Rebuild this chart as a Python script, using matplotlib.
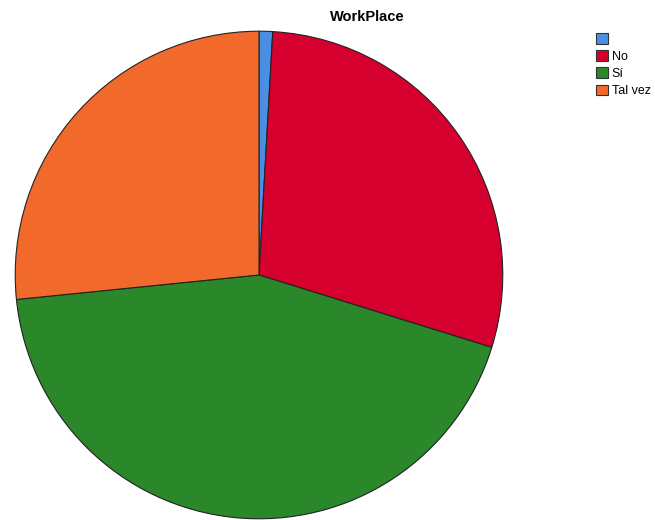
import matplotlib
matplotlib.use('Agg')
import matplotlib.pyplot as plt
from matplotlib.patches import Patch

# ── Data (percent of responses) ───────────────────────────────────────────
labels = ['', 'No', 'Sí', 'Tal vez']
shares = [0.9, 28.9, 43.6, 26.6]
colors = ['#4a8fe4', '#d6002f', '#2a872a', '#f2692c']

# ── Plot ──────────────────────────────────────────────────────────────────
fig = plt.figure(figsize=(6.55, 5.2), dpi=100)
ax = fig.add_axes([14 / 655, 0, 490 / 655, 490 / 520])
ax.pie(shares, colors=colors, startangle=90, counterclock=False,
       wedgeprops=dict(edgecolor='#222222', linewidth=0.8))
ax.set_xlim(-1.005, 1.005)
ax.set_ylim(-1.005, 1.005)
ax.set_aspect('equal')

fig.text(367 / 655, 1 - 17 / 520, 'WorkPlace', ha='center', va='center',
         fontsize=10.5, fontweight='bold', family='Liberation Sans')

handles = [Patch(facecolor=c, edgecolor='#333333', linewidth=0.8) for c in colors]
fig.legend(handles, labels, loc='upper left',
           bbox_to_anchor=(596 / 655, 1 - 33 / 520), frameon=False,
           prop={'family': 'Liberation Sans', 'size': 9},
           handlelength=0.95, handleheight=0.95, handletextpad=0.3,
           labelspacing=0.36, borderpad=0, borderaxespad=0)

plt.savefig('out.png', dpi=100)
plt.close()
